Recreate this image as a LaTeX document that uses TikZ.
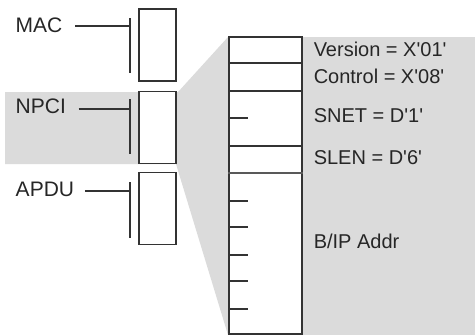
\documentclass[tikz,border=0pt]{standalone}
\usepackage{fontspec}
\setmainfont{Liberation Sans}[Ligatures=TeXOff]
\begin{document}
\begin{tikzpicture}[x=1pt, y=-1pt, line width=1.5pt]
  \tikzstyle{layer}=[draw=black!80, fill=white, minimum width=37pt, minimum height=72pt, inner sep=0pt]
  \tikzstyle{tag}=[font=\fontsize{21}{24}\selectfont, text=black!85, anchor=base west, inner sep=0pt]
  \tikzstyle{field}=[font=\fontsize{20}{23}\selectfont, text=black!85, anchor=base west, inner sep=0pt]
  \tikzstyle{wire}=[draw=black!80, line width=1.5pt]
  \useasboundingbox (0,0) rectangle (475,335);
% shaded zoom onto the NPCI
  \fill[black!14] (5,92) -- (178,92) -- (228,37) -- (475,37) -- (475,335)
        -- (228,335) -- (176,164) -- (5,164) -- cycle;
% the three layers
  \node[layer] (macbox)  at (157.5,45)    {};
  \node[layer] (npcibox) at (157.5,127.5) {};
  \node[layer] (apdubox) at (157.5,208.5) {};
  \node[tag] (mac)  at (15,32)  {MAC};
  \node[tag] (npci) at (15,113) {NPCI};
  \node[tag] (apdu) at (15,196) {APDU};
  \coordinate (macbar)  at (130,26);
  \coordinate (npcibar) at (130,109);
  \coordinate (apdubar) at (130,191);
  \draw[wire] (130,18) -- (130,73);
  \draw[wire] (130,99) -- (130,154);
  \draw[wire] (130,182) -- (130,238);
  \draw[wire] (mac.east |- macbar)   ++(12,0) -- (macbar);
  \draw[wire] (npci.east |- npcibar) ++(12,0) -- (npcibar);
  \draw[wire] (apdu.east |- apdubar) ++(10,0) -- (apdubar);
% the NPCI fields
  \node[draw=black!80, fill=white, minimum width=73pt, minimum height=297pt, inner sep=0pt]
        (frame) at (265.5,185.5) {};
  \draw[wire] (frame.west |- 0,63)  -- (frame.east |- 0,63);
  \draw[wire] (frame.west |- 0,91)  -- (frame.east |- 0,91);
  \draw[wire] (frame.west |- 0,146) -- (frame.east |- 0,146);
  \draw[wire, draw=black!65] (frame.west |- 0,173) -- (frame.east |- 0,173);
  \draw[wire] (frame.west |- 0,118) -- ++(20,0);
  \draw[wire] (frame.west |- 0,201) -- ++(20,0);
  \draw[wire] (frame.west |- 0,227) -- ++(20,0);
  \draw[wire] (frame.west |- 0,255) -- ++(20,0);
  \draw[wire] (frame.west |- 0,281) -- ++(20,0);
  \draw[wire] (frame.west |- 0,309) -- ++(20,0);
  \node[field] (version) at (313,56)  {Version = X'01'};
  \node[field] (control) at (313,83)  {Control = X'08'};
  \node[field] (snet)    at (313,122) {SNET = D'1'};
  \node[field] (slen)    at (313,164) {SLEN = D'6'};
  \node[field] (addr)    at (313,248) {B/IP Addr};
\end{tikzpicture}
\end{document}
